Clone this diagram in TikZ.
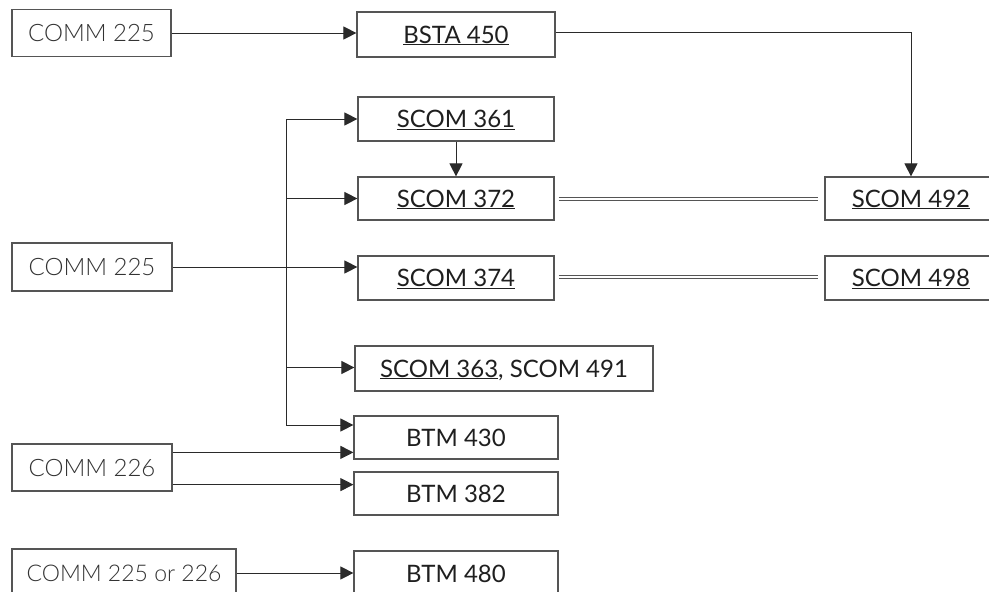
\documentclass[tikz,border=0pt]{standalone}
\usepackage{fontspec}
\setmainfont{Lato}
\newfontfamily\lightfont{Lato Light}
\usetikzlibrary{arrows.meta,calc}
\newcommand{\uln}[1]{\underline{#1}}
\definecolor{boxline}{HTML}{555555}
\definecolor{conn}{HTML}{2A2A2A}
\definecolor{lighttext}{HTML}{333333}
\begin{document}
\begin{tikzpicture}[x=1pt,y=-1pt,
  srcbox/.style={draw=boxline, line width=1.2pt, inner sep=0pt, minimum height=47pt,
    text height=17pt, text depth=0pt, font=\lightfont\fontsize{24}{28}\selectfont, text=lighttext},
  crsbox/.style={draw=boxline, line width=1.2pt, inner sep=0pt, minimum height=44pt,
    text height=17pt, text depth=0pt, font=\fontsize{24}{28}\selectfont, text=black!88},
  link/.style={draw=conn, line width=1pt},
  arr/.style={link, -{Triangle[length=13pt,width=13pt]}},
  eqv/.style={draw=boxline, double=white, double distance=2.6pt, line width=0.9pt}
]
\useasboundingbox (0,0) rectangle (989,592);
\fill[white] (0,0) rectangle (989,592);

% left source boxes
\node[srcbox, minimum width=159pt] (c225a) at (91.5,33) {COMM 225};
\node[srcbox, minimum width=160pt, minimum height=48pt] (c225b) at (92,267) {COMM 225};
\node[srcbox, minimum width=160pt] (c226) at (92,467.5) {COMM 226};
\node[srcbox, minimum width=224pt, minimum height=48pt, font=\lightfont\fontsize{23}{28}\selectfont] (c225or) at (124,573) {COMM 225 or 226};

% course boxes
\node[crsbox, minimum width=198pt, minimum height=45pt] (b450) at (456,34.5) {\uln{BSTA 450}};
\node[crsbox, minimum width=196pt] (s361) at (456,119) {\uln{SCOM 361}};
\node[crsbox, minimum width=196pt, minimum height=43pt] (s372) at (456,198.5) {\uln{SCOM 372}};
\node[crsbox, minimum width=172pt, minimum height=43pt] (s492) at (911,198.5) {\uln{SCOM 492}};
\node[crsbox, minimum width=196pt] (s374) at (456,278) {\uln{SCOM 374}};
\node[crsbox, minimum width=172pt] (s498) at (911,278) {\uln{SCOM 498}};
\node[crsbox, minimum width=298pt, minimum height=45pt] (s363) at (504,368.5) {\uln{SCOM 363}, SCOM 491};
\node[crsbox, minimum width=204pt, minimum height=43pt] (b430) at (456,437.5) {BTM 430};
\node[crsbox, minimum width=204pt, minimum height=43pt] (b382) at (456,493.5) {BTM 382};
\node[crsbox, minimum width=204pt, minimum height=45pt] (b480) at (456,573.5) {BTM 480};

% trunk coordinates
\coordinate (t361) at (286,119);
\coordinate (t372) at (286,198.5);
\coordinate (t363) at (286,367.5);
\coordinate (t430) at (286,425);

% connectors
\draw[arr] (c225a.east) -- (c225a.east -| b450.west);
\draw[arr] ([yshift=2.5pt]b450.east) -| (s492.north);
\draw[arr] (s361.south) -- (s372.north);
\draw[link] (t361) -- (t430);
\draw[arr] (t361) -- (s361.west);
\draw[arr] (t372) -- (s372.west);
\draw[arr] (c225b.east) -- (c225b.east -| s374.west);
\draw[arr] (t363) -- (t363 -| s363.west);
\draw[arr] (t430) -- (t430 -| b430.west);
\draw[arr] ([yshift=-9pt]c226.north east) -- ([yshift=-9pt]c226.north east -| b430.west);
\draw[arr] ([yshift=7pt]c226.south east) -- ([yshift=7pt]c226.south east -| b382.west);
\draw[arr] (c225or.east) -- (c225or.east -| b480.west);

% equivalence (double) lines
\draw[eqv] ([xshift=4pt,yshift=-0.5pt]s372.east) -- ([xshift=-6pt,yshift=-0.5pt]s492.west);
\draw[eqv] ([xshift=4pt,yshift=1pt]s374.east) -- ([xshift=-6pt,yshift=1pt]s498.west);
\end{tikzpicture}
\end{document}
